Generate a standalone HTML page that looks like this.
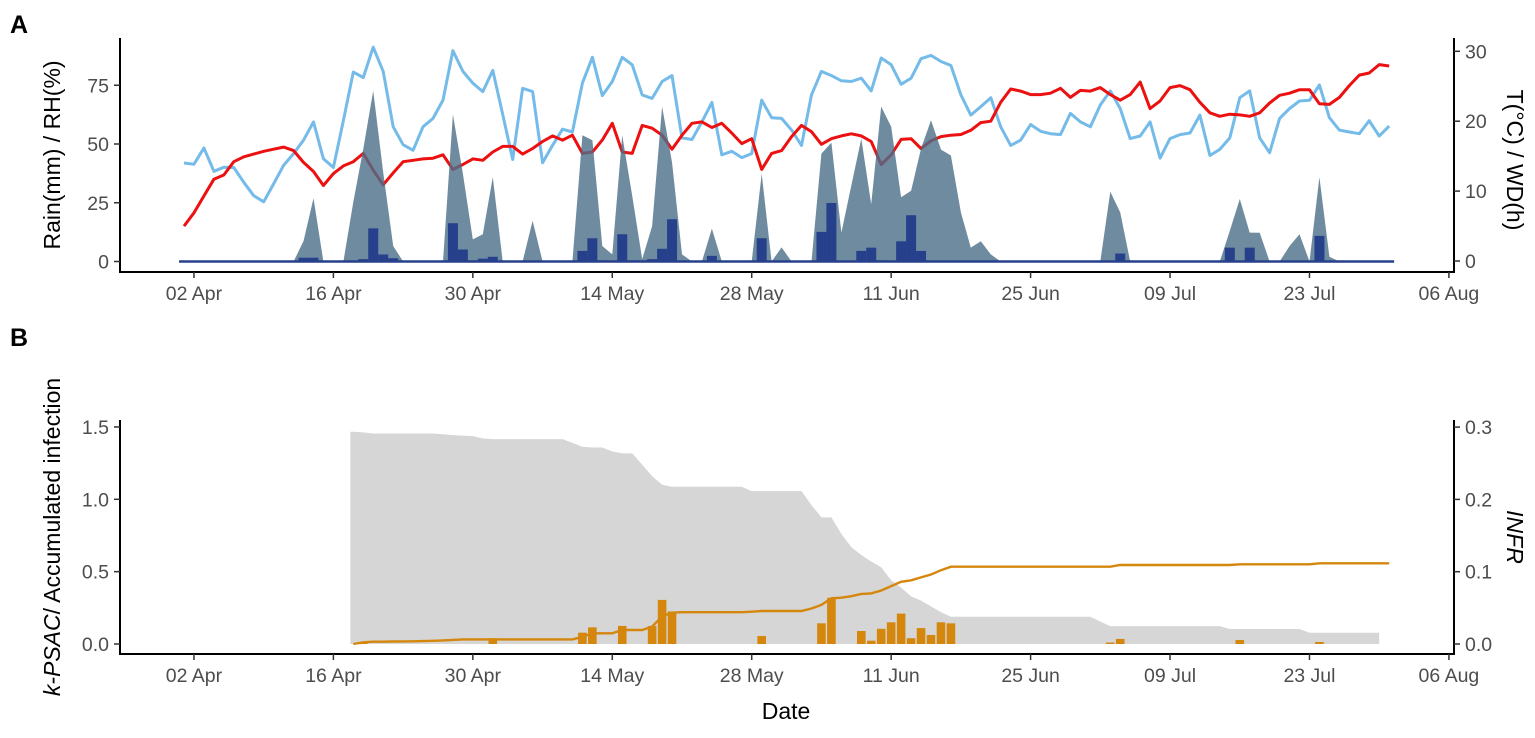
<!DOCTYPE html>
<html><head><meta charset="utf-8">
<style>
html,body{margin:0;padding:0;background:#fff;}
svg text{font-family:"Liberation Sans",Arial,sans-serif;}
.tk{font-size:19.5px;fill:#4d4d4d;}
.ttl{font-size:23px;fill:#000;}
</style></head>
<body>
<svg id="chart" width="1535" height="733" viewBox="0 0 1535 733" xmlns="http://www.w3.org/2000/svg">
<text x="10" y="33" font-size="25" font-weight="bold">A</text>
<text x="10" y="346" font-size="25" font-weight="bold">B</text>
<text class="ttl" transform="translate(60,155) rotate(-90)" text-anchor="middle">Rain(mm) / RH(%)</text>
<text class="ttl" transform="translate(1507,160) rotate(90)" text-anchor="middle">T(°C) / WD(h)</text>
<text class="ttl" transform="translate(60,537) rotate(-90)" text-anchor="middle"><tspan font-style="italic">k-PSAC</tspan>/ Accumulated infection</text>
<text class="ttl" transform="translate(1507,537) rotate(90)" text-anchor="middle" font-style="italic">INFR</text>
<text class="ttl" x="786" y="719" text-anchor="middle">Date</text>
<g id="gA"></g>
<g id="gB"></g>
<g id="axes"></g>
</svg>
<script>
// Panel A data (day index 0 = 01 Apr)
const rh = [41.9,41.4,48.3,38.4,40.1,40,33.7,28,25.4,33,40.9,45.9,51.6,59.4,43.7,40,60,80.6,78.3,91.2,80.9,57.3,49.7,47.3,57.3,60.9,68.7,89.7,
80.9,75.9,72.3,81.3,62.6,43.4,73.7,72.3,42,49.4,56.3,55.1,75.9,86.9,70.6,76.6,86.9,83.7,70.9,69.4,76.6,79.1,52.6,51.9,59.4,67.7,45.4,46.9,44.2,45.9,68.7,61.2,60.9,55.9,
49.4,70.9,80.9,79.1,76.9,76.6,78,72.6,86.6,83.7,75.4,78,86.3,87.7,85.1,83.4,70.9,62.3,65.9,69.7,57.3,49.4,51.6,58.3,55.4,54.4,54,63,59.4,57.3,66.6,72.6,
65.1,52.3,53.4,59.4,44,52.3,54,54.7,62.3,45.1,47.7,52.6,69.7,72.6,52.6,46.3,60.9,65.1,68.3,68.6,75.1,61.2,55.9,55.1,54.4,59.9,53.4,57.6];
const temp = [5.0,6.9,9.3,11.7,12.3,14.2,14.9,15.3,15.7,16.0,16.3,15.8,14.1,12.8,10.8,12.5,13.6,14.2,15.4,13.0,10.9,12.6,14.2,14.4,14.6,14.7,15.2,13.1,
13.8,14.6,14.4,15.6,16.4,16.4,15.3,16.1,17.1,17.9,17.3,18.0,15.4,15.6,17.3,19.7,15.6,15.4,19.4,19.0,18.0,16.0,18.0,19.7,19.9,19.1,19.7,18.3,16.8,17.5,13.1,15.4,15.8,17.8,
19.4,18.5,16.7,17.5,17.9,18.2,17.9,17.1,13.8,15.2,17.4,17.5,16.1,17.2,17.8,18.0,18.1,18.7,19.8,20.0,22.7,24.6,24.3,23.8,23.8,24.0,24.7,23.4,24.4,24.3,24.8,23.8,
23.0,23.8,25.6,21.8,22.9,24.8,25.1,24.5,22.7,21.2,20.7,21.0,20.9,20.7,21.2,22.6,23.7,24.0,24.5,24.5,22.5,22.4,23.4,25.1,26.6,26.9,28.1,27.9];
const rain = [0,0,0,0,0,0,0,0,0,0,0,0,8.7,26.9,0,0,0,25.3,48,72.6,38,6.6,0,0,0,0,0,62.6,
37.3,9.4,11.6,35.9,0,0,0,17.3,0,0,0,0,53.7,51.6,6.6,3,53.7,28,1,15,65.9,42.3,3,0,0,14,0,0,0,0,37.3,0,6,0,
0,0,45.9,50.6,12.3,32.3,52.3,24.4,65.9,57.3,27.3,30.1,48,60.1,47.6,45.1,20.9,5.9,8.6,3,0,0,0,0,0,0,0,0,0,0,0,29.7,
20.9,0,0,0,0,0,0,0,0,0,0,13,26.6,12.3,12.2,0,0,6.6,11.6,0,35.9,2,0,0,0,0,0,0];
const wdDays = [12,13,18,19,20,21,27,28,30,31,40,41,42,44,45,47,48,49,53,58,64,65,67,68,69,70,72,73,74,75,76,94,105,107,114];
const wdVals = [1.6,1.6,1,14.1,3,1.4,16.3,5.1,1.2,2,4.5,9.9,0.5,11.6,0.5,1,5.4,18,2.4,9.9,12.6,24.9,0.4,4.5,5.9,0.5,8.6,19.7,4.5,0.3,0.3,3.4,5.9,5.9,10.9];
// Panel B data (starting day 17)
const bStart = 17;
const kpsac = [1.467,1.462,1.455,1.455,1.455,1.455,1.455,1.455,1.455,1.45,1.444,1.44,1.437,1.421,
1.416,1.416,1.416,1.416,1.416,1.416,1.416,1.416,1.39,1.363,1.358,1.358,1.33,1.317,1.317,1.24,1.16,
1.1,1.087,1.087,1.087,1.087,1.087,1.087,1.087,1.087,1.057,1.057,1.057,1.057,1.057,1.057,
0.96,0.875,0.875,0.76,0.67,0.615,0.57,0.53,0.44,0.39,0.33,0.30,0.26,0.22,
0.189,0.189,0.189,0.189,0.189,0.189,0.189,0.189,0.189,0.189,0.189,0.189,0.189,0.189,0.189,0.155,
0.124,0.124,0.124,0.124,0.124,0.124,0.124,0.124,0.124,0.124,0.124,0.124,
0.104,0.104,0.104,0.104,0.104,0.104,0.104,0.104,0.078,0.078,0.078,0.078,0.078,0.078,0.078,0.078];
const accum = [0,0.012,0.016,0.016,0.017,0.018,0.019,0.020,0.022,0.025,0.028,
0.032,0.032,0.032,0.032,0.032,0.032,0.032,0.032,0.032,0.032,0.032,0.032,
0.05,0.074,0.074,0.074,0.097,0.097,0.097,0.12,0.19,0.216,
0.22,0.22,0.22,0.22,0.22,0.22,0.22,0.223,0.228,0.228,0.228,0.228,0.228,
0.245,0.27,0.316,0.32,0.33,0.346,0.35,0.37,0.40,0.43,0.44,0.46,0.48,0.51,0.534,
0.534,0.534,0.534,0.534,0.534,0.534,0.534,0.534,0.534,0.534,0.534,0.534,0.534,0.534,0.534,0.534,
0.546,0.546,0.546,0.546,0.546,0.546,0.546,0.546,0.546,0.546,0.546,0.546,
0.551,0.551,0.551,0.551,0.551,0.551,0.551,0.551,0.558,0.558,0.558,0.558,0.558,0.558,0.558,0.558];
const infrDays = [18,31,40,41,44,47,48,49,58,64,65,68,69,70,71,72,73,74,75,76,77,93,94,106,114];
const infrVals = [0.002,0.008,0.0157,0.023,0.025,0.025,0.061,0.045,0.011,0.0286,0.064,0.018,0.0046,0.021,0.030,0.042,0.008,0.022,0.0125,0.030,0.0286,0.002,0.007,0.0055,0.0028];
// Ticks
const xTickDays = [1,15,29,43,57,71,85,99,113,127];
const xTickLabels = ["02 Apr","16 Apr","30 Apr","14 May","28 May","11 Jun","25 Jun","09 Jul","23 Jul","06 Aug"];
const aLeftTicks = [0,25,50,75];
const aRightTicks = [0,10,20,30];
const bLeftTicks = [0,0.5,1.0,1.5];
const bRightTicks = [0,0.1,0.2,0.3];

const NS="http://www.w3.org/2000/svg";
const xs = d => 184 + 9.96*d;
const yA = v => 261.5 - v*2.35;
const yAR = v => 261 - v*6.99;
const yB = v => 644 - v*144.7;
const yBR = v => 644 - v*723;
function mk(tag, attrs, parent){const e=document.createElementNS(NS,tag);for(const k in attrs)e.setAttribute(k,attrs[k]);parent.appendChild(e);return e;}
const gA=document.getElementById('gA'), gB=document.getElementById('gB'), ax=document.getElementById('axes');

// Panel A lines
let p = rh.map((v,i)=>xs(i).toFixed(1)+','+yA(v).toFixed(1)).join(' ');
let e = mk('polyline',{points:p,fill:'none',stroke:'#74bbe9','stroke-width':3,'stroke-linejoin':'round'},gA);


p = temp.map((v,i)=>xs(i).toFixed(1)+','+yAR(v).toFixed(1)).join(' ');
e = mk('polyline',{points:p,fill:'none',stroke:'#ec1010','stroke-width':3,'stroke-linejoin':'round'},gA);


// rain area
p = xs(0)+','+yA(0)+' '+rain.map((v,i)=>xs(i).toFixed(1)+','+yA(v).toFixed(1)).join(' ')+' '+xs(rain.length-1)+','+yA(0);
e = mk('polygon',{points:p,fill:'rgb(75,110,136)','fill-opacity':0.8},gA);


// wd bars
wdDays.forEach((d,i)=>{
  const b = mk('rect',{x:xs(d)-5,y:yA(wdVals[i]),width:10,height:yA(0)-yA(wdVals[i]),fill:'#27408b'},gA);
  
  
});
e = mk('line',{x1:xs(-0.5),x2:xs(121.5),y1:yA(0),y2:yA(0),stroke:'#27408b','stroke-width':2.5},gA);



// Panel B
const last = bStart+kpsac.length-1;
p = xs(bStart-0.3)+','+yB(0)+' '+xs(bStart-0.3)+','+yB(kpsac[0])+' '+kpsac.map((v,i)=>xs(bStart+i).toFixed(1)+','+yB(v).toFixed(1)).join(' ')+' '+xs(last)+','+yB(0);
e = mk('polygon',{points:p,fill:'#d6d6d6'},gB);


infrDays.forEach((d,i)=>{
  const b = mk('rect',{x:xs(d)-4.3,y:yBR(infrVals[i]),width:8.6,height:yBR(0)-yBR(infrVals[i]),fill:'#d4870c'},gB);
  
  
});
p = accum.map((v,i)=>xs(bStart+i).toFixed(1)+','+yB(v).toFixed(1)).join(' ');
e = mk('polyline',{points:p,fill:'none',stroke:'#d4870c','stroke-width':2.4},gB);



// Axes
function axesPanel(top,bottom,leftTicks,leftScale,rightTicks,rightScale,fmt,name){
  let l = mk('path',{d:`M120,${top}V${bottom}H1454V${top}`,fill:'none',stroke:'#000','stroke-width':2},ax);
  
  
  leftTicks.forEach(v=>{
    const y=leftScale(v);
    mk('line',{x1:114,x2:120,y1:y,y2:y,stroke:'#333','stroke-width':1.5},ax);
    const t=mk('text',{x:109,y:y+7,'text-anchor':'end',class:'tk'},ax);
    t.textContent=fmt(v);
    
    
  });
  rightTicks.forEach(v=>{
    const y=rightScale(v);
    mk('line',{x1:1454,x2:1460,y1:y,y2:y,stroke:'#333','stroke-width':1.5},ax);
    const t=mk('text',{x:1465,y:y+7,'text-anchor':'start',class:'tk'},ax);
    t.textContent=fmt(v);
    
    
  });
  xTickDays.forEach((d,i)=>{
    const x=xs(d);
    mk('line',{x1:x,x2:x,y1:bottom,y2:bottom+6,stroke:'#333','stroke-width':1.5},ax);
    const t=mk('text',{x:x,y:bottom+28,'text-anchor':'middle',class:'tk'},ax);
    t.textContent=xTickLabels[i];
    
    
  });
}
axesPanel(38,272,aLeftTicks,yA,aRightTicks,yAR,v=>String(v),'panel-a');
axesPanel(420,654,bLeftTicks,yB,bRightTicks,yBR,v=>v.toFixed(1),'panel-b');
</script>
</body></html>
